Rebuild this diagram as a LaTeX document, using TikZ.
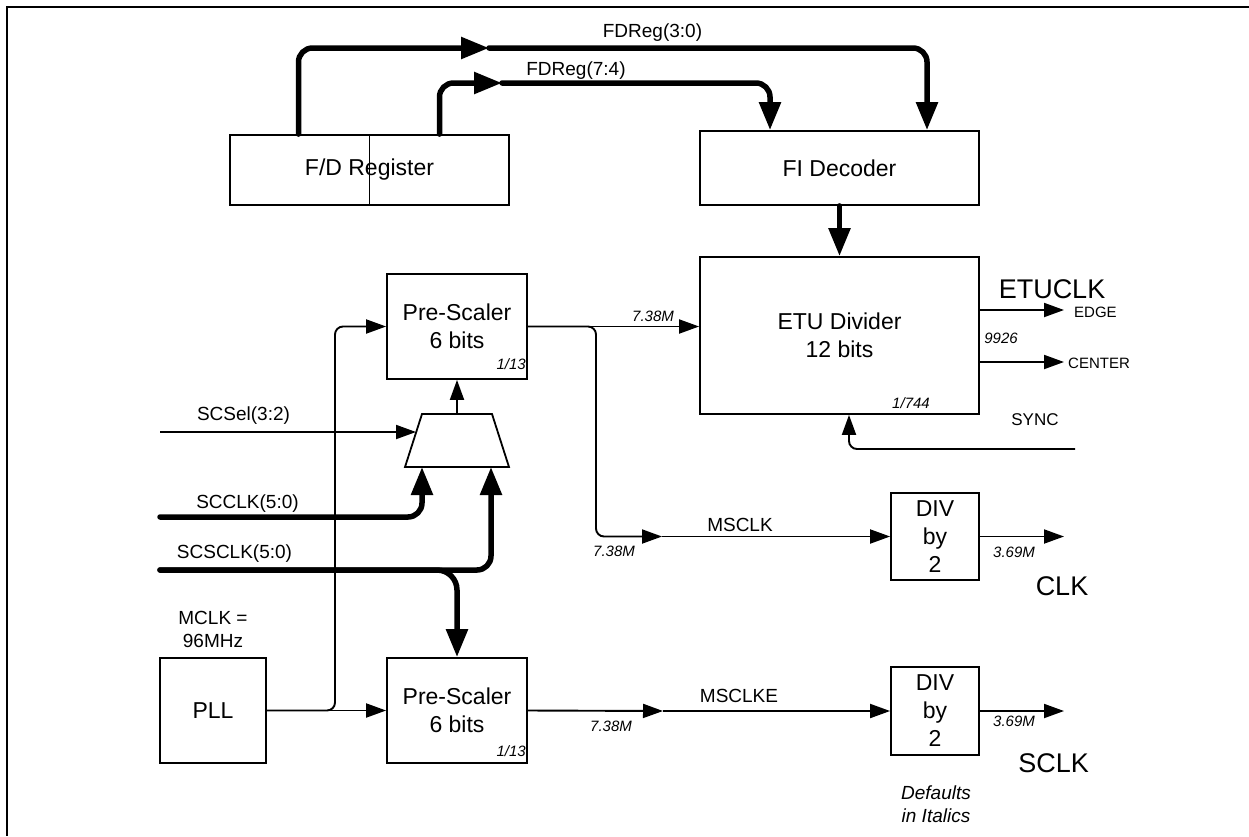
\documentclass[tikz,border=0pt]{standalone}
\usepackage{fontspec}
\setmainfont{Liberation Sans}
\usetikzlibrary{arrows.meta}
\begin{document}
\begin{tikzpicture}[x=1pt,y=-1pt,
  box/.style={draw, line width=1.8pt, inner sep=0pt, align=center, font=\fontsize{23}{28}\selectfont},
  sig/.style={line width=1.9pt, -{Triangle[length=20pt,width=14pt]}, rounded corners=8pt},
  bus/.style={line width=5.5pt, line cap=round, -{Triangle[length=28pt,width=21pt]}, rounded corners=14pt},
  lbl/.style={inner sep=0pt, align=center, font=\fontsize{19}{23}\selectfont},
  val/.style={inner sep=0pt, font=\fontsize{15}{18}\selectfont\itshape},
  tag/.style={inner sep=0pt, font=\fontsize{15}{18}\selectfont},
  bigtag/.style={inner sep=0pt, font=\fontsize{27}{30}\selectfont}]
\useasboundingbox (0,0) rectangle (1249,836);
\draw[line width=2.5pt] (1249,7) -- (7,7) -- (7,836);

\node[box, minimum width=279pt, minimum height=70pt] (fdr) at (369.5,170) {F/D Register};
\draw[line width=1.2pt] (fdr.north) -- (fdr.south);
\node[box, minimum width=279pt, minimum height=74pt] (fid) at (839.5,168) {FI Decoder};
\node[box, minimum width=279pt, minimum height=157pt] (etu) at (839.5,335.5) {ETU Divider\\12 bits};
\node[box, minimum width=140pt, minimum height=105pt] (ps1) at (457,326.5) {Pre-Scaler\\6 bits};
\node[box, minimum width=140pt, minimum height=105pt] (ps2) at (457,710.5) {Pre-Scaler\\6 bits};
\node[box, minimum width=106pt, minimum height=105pt] (pll) at (213,710.5) {PLL};
\node[box, minimum width=88pt, minimum height=87pt] (div1) at (935,536.5) {DIV\\by\\2};
\node[box, minimum width=88pt, minimum height=88pt] (div2) at (935,711) {DIV\\by\\2};
\draw[line width=1.8pt] (422,414) -- (492,414) -- (509,467) -- (405,467) -- cycle;

\coordinate (muxtop) at (457,414);
\coordinate (muxin) at (416,432);
\coordinate (muxa) at (422,467);
\coordinate (muxb) at (491,467);
\coordinate (m1) at (489,48);
\coordinate (m2) at (502,83);
\coordinate (m3) at (662,536.5);
\coordinate (m4) at (663,711);
\coordinate (br) at (596,536.5);
\coordinate (tap) at (335,710.5);
\coordinate (scsel) at (160,432);
\coordinate (scclk) at (160,517);
\coordinate (scsclk) at (160,570);
\coordinate (sync) at (1075,449);
\coordinate (edg) at (1064,310);
\coordinate (ctr) at (1064,362);
\coordinate (clk) at (1064,536.5);
\coordinate (sclk) at (1064,711);

\draw[bus] ([xshift=-71pt]fdr.north) |- (m1);
\draw[bus] (m1) -| ([xshift=87.5pt]fid.north);
\draw[bus] ([xshift=70pt]fdr.north) |- (m2);
\draw[bus] (m2) -| ([xshift=-69.5pt]fid.north);
\draw[bus] (fid.south) -- (etu.north);
\draw[bus] (scclk) -| (muxa);
\draw[bus] (scsclk) -| (muxb);
\draw[bus, rounded corners=20pt] (scsclk) -| (ps2.north);

\draw[sig] (scsel) -- (muxin);
\draw[sig] (muxtop) -- (ps1.south);
\draw[sig] (pll.east) -- (ps2.west);
\draw[sig] (pll.east) -- (tap) |- (ps1.west);
\draw[sig] (ps1.east) -- (ps1.east -| etu.west);
\draw[sig] (ps1.east) -| (br) -- (m3);
\draw[sig] (m3) -- (div1.west);
\draw[sig] (ps2.east) -- (m4);
\draw[sig] (m4) -- (div2.west);
\draw[sig] (div1.east) -- (clk);
\draw[sig] (div2.east) -- (sclk);
\draw[sig] (edg -| etu.east) -- (edg);
\draw[sig] (ctr -| etu.east) -- (ctr);
\draw[sig] (sync) -| ([xshift=9.5pt]etu.south);

\node[lbl] (l1) at (652.5,33) {FDReg(3:0)};
\node[lbl] (l2) at (576,71) {FDReg(7:4)};
\node[lbl] (l3) at (243.5,415.5) {SCSel(3:2)};
\node[lbl] (l4) at (247.5,504) {SCCLK(5:0)};
\node[lbl] (l5) at (234.5,554) {SCSCLK(5:0)};
\node[lbl] (l6) at (213,629) {MCLK =\\96MHz};
\node[lbl] (l7) at (740,524.5) {MSCLK};
\node[lbl] (l8) at (739,695.5) {MSCLKE};
\node[lbl, font=\fontsize{17}{20}\selectfont] (l9) at (1035,420) {SYNC};
\node[val] (v1) at (653,316.5) {7.38M};
\node[val] (v2) at (614,551) {7.38M};
\node[val] (v3) at (611,726) {7.38M};
\node[val, anchor=east] (v4) at (526,364) {1/13};
\node[val, anchor=east] (v5) at (526,751) {1/13};
\node[val] (v6) at (911,403) {1/744};
\node[val] (v7) at (1001,338) {9926};
\node[val] (v8) at (1014,552) {3.69M};
\node[val] (v9) at (1014,721) {3.69M};
\node[lbl, font=\fontsize{19}{23}\selectfont\itshape] (v10) at (936,804) {Defaults\\in Italics};
\node[tag, anchor=west] (t1) at (1074,312.5) {EDGE};
\node[tag, anchor=west] (t2) at (1068,363) {CENTER};
\node[bigtag] (o1) at (1052,289) {ETUCLK};
\node[bigtag] (o2) at (1062,586) {CLK};
\node[bigtag] (o3) at (1053.5,763.5) {SCLK};
\end{tikzpicture}
\end{document}
